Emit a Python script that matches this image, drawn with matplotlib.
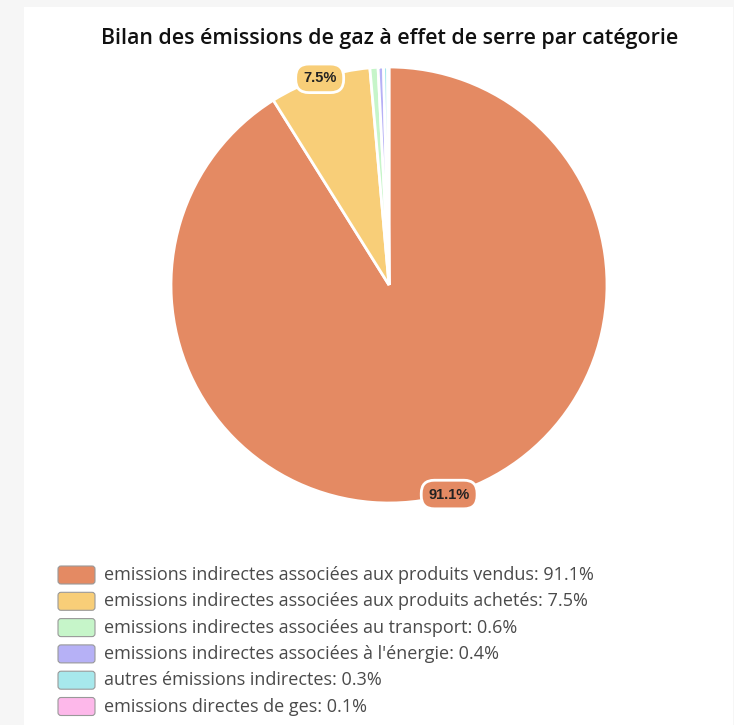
import matplotlib
matplotlib.use("Agg")
import matplotlib.pyplot as plt
from matplotlib.patches import FancyBboxPatch, Rectangle
import numpy as np

W, H = 734, 725

categories = [
    "emissions indirectes associées aux produits vendus",
    "emissions indirectes associées aux produits achetés",
    "emissions indirectes associées au transport",
    "emissions indirectes associées à l'énergie",
    "autres émissions indirectes",
    "emissions directes de ges",
]
values = [91.1, 7.5, 0.6, 0.4, 0.3, 0.1]
colors = ["#E48A63", "#F8CE78", "#C6F5C9", "#B6B1F6", "#A7E8EC", "#FDB8EA"]
title = "Bilan des émissions de gaz à effet de serre par catégorie"

plt.rcParams['font.family'] = ['Open Sans', 'DejaVu Sans']

fig = plt.figure(figsize=(W / 100, H / 100), dpi=100)
fig.patch.set_facecolor("#f6f6f6")

# overlay in pixel coords
bg = fig.add_axes([0, 0, 1, 1])
bg.set_xlim(0, W)
bg.set_ylim(H, 0)
bg.axis("off")
bg.add_patch(Rectangle((24, 7), W - 25, H, facecolor="white", edgecolor="none"))

bg.text(390, 38, title, ha="center", va="center", fontsize=15.4,
        fontweight="semibold", color="#111111")

# pie
cx, cy, r = 389, 285, 218
ax = fig.add_axes([(cx - r) / W, (H - cy - r) / H, 2 * r / W, 2 * r / H])
wedges, _ = ax.pie(values, colors=colors, startangle=90, counterclock=False,
                   radius=1, wedgeprops=dict(edgecolor="white", linewidth=2))
ax.set_xlim(-1, 1)
ax.set_ylim(-1, 1)
ax.set_aspect("equal")
ax.axis("off")

total = sum(values)
for w, v, c in zip(wedges, values, colors):
    if v / total < 0.05:
        continue
    ang = np.deg2rad((w.theta1 + w.theta2) / 2)
    x, y = np.cos(ang), np.sin(ang)
    ax.text(x, y, f"{v}%", ha="center", va="center", fontsize=10.5,
            fontweight="bold", color="#222222", family="Liberation Sans",
            bbox=dict(boxstyle="round,pad=0.5,rounding_size=0.9", facecolor=c,
                      edgecolor="white", linewidth=2), zorder=5)

# legend
y0, dy = 575, 26.3
for i, (lab, v, c) in enumerate(zip(categories, values, colors)):
    y = y0 + i * dy
    bg.add_patch(FancyBboxPatch((58, y - 9), 37, 18,
                                boxstyle="round,pad=0,rounding_size=3",
                                facecolor=c, edgecolor="#999999", linewidth=0.8))
    bg.text(104, y, f"{lab}: {v}%", ha="left", va="center", fontsize=13,
            color="#4a4a4a")

fig.savefig("out.png", dpi=100, facecolor=fig.get_facecolor())
